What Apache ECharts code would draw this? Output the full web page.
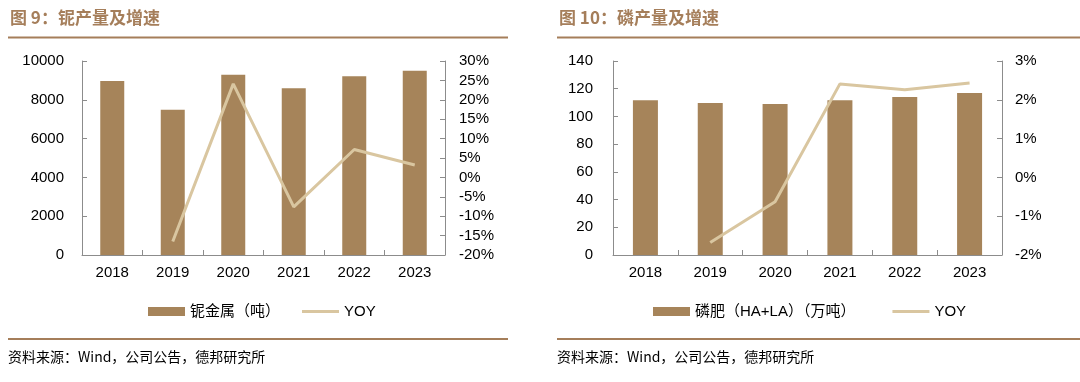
<!DOCTYPE html>
<html><head><meta charset="utf-8">
<script src="https://cdn.jsdelivr.net/npm/echarts@6/dist/echarts.min.js"></script>
<style>html,body{margin:0;padding:0;background:#fff}#c{width:1080px;height:382px}</style>
</head><body><div id="c"></div>
<script>
const years = ['2018','2019','2020','2021','2022','2023'];
const nbOutput = [8969, 7490, 9294, 8591, 9210, 9502];
const nbYoy = [null, -16.5, 24.1, -7.6, 7.2, 3.2];
const pOutput = [111.6, 109.7, 109.0, 111.6, 114.0, 116.9];
const pYoy = [null, -1.68, -0.63, 2.41, 2.26, 2.43];
const nbLeftTicks = {min: 0, max: 10000, interval: 2000};
const nbRightTicks = {min: -20, max: 30, interval: 5};
const pLeftTicks = {min: 0, max: 140, interval: 20};
const pRightTicks = {min: -2, max: 3, interval: 1};

const BAR = '#A6845A', LINE = '#D9C6A0', TITLE = '#A57E5A', AX = '#8c8c8c';
const FONT = 'Arial, "Liberation Sans", "Noto Sans CJK SC", sans-serif';
const CJK = '"Noto Sans CJK SC", sans-serif';

function yAx(grid, t, pos, fmt, margin) {
  return {type: 'value', gridIndex: grid, position: pos, min: t.min, max: t.max, interval: t.interval,
    axisLine: {show: true, lineStyle: {color: AX, width: 1}},
    axisTick: {show: true, inside: true, length: 5, lineStyle: {color: AX}},
    splitLine: {show: false},
    axisLabel: {color: '#000', fontSize: 15, fontFamily: FONT, margin: margin, formatter: fmt}};
}
function xAx(grid) {
  return {type: 'category', gridIndex: grid, data: years, boundaryGap: true,
    axisLine: {show: true, lineStyle: {color: AX, width: 1}},
    axisTick: {show: true, inside: true, length: 5, alignWithLabel: false, lineStyle: {color: AX}},
    axisLabel: {color: '#000', fontSize: 15, fontFamily: FONT, margin: 10}};
}
const chart = echarts.init(document.getElementById('c'), null, {renderer: 'canvas'});
chart.setOption({
  animation: false,
  grid: [
    {left: 82, top: 61, width: 363, height: 194},
    {left: 613, top: 61, width: 389, height: 194}
  ],
  xAxis: [xAx(0), xAx(1)],
  yAxis: [
    yAx(0, nbLeftTicks, 'left', v => v, 18),
    yAx(0, nbRightTicks, 'right', v => v + '%', 14),
    yAx(1, pLeftTicks, 'left', v => v, 20),
    yAx(1, pRightTicks, 'right', v => v + '%', 13)
  ],
  legend: [
    {data: [{name: '铌金属（吨）', icon: 'rect'}, {name: 'YOY_1', icon: 'path://M0,0L40,0L40,3L0,3Z'}],
     formatter: n => n.startsWith('YOY') ? 'YOY' : n,
     left: 143, top: 299, itemWidth: 37, itemHeight: 9, itemGap: 22,
     textStyle: {fontSize: 15, fontFamily: FONT, color: '#000'}},
    {data: [{name: '磷肥（HA+LA）（万吨）', icon: 'rect'}, {name: 'YOY_2', icon: 'path://M0,0L40,0L40,3L0,3Z'}],
     formatter: n => n.startsWith('YOY') ? 'YOY' : n,
     left: 648, top: 299, itemWidth: 37, itemHeight: 9, itemGap: 37,
     textStyle: {fontSize: 15, fontFamily: FONT, color: '#000'}}
  ],
  series: [
    {name: '铌金属（吨）', type: 'bar', xAxisIndex: 0, yAxisIndex: 0, data: nbOutput, barWidth: 24, itemStyle: {color: BAR}, z: 2},
    {name: 'YOY_1', type: 'line', xAxisIndex: 0, yAxisIndex: 1, data: nbYoy, showSymbol: false, symbol: 'none',
     lineStyle: {color: LINE, width: 3}, itemStyle: {color: LINE}, z: 3},
    {name: '磷肥（HA+LA）（万吨）', type: 'bar', xAxisIndex: 1, yAxisIndex: 2, data: pOutput, barWidth: 25, itemStyle: {color: BAR}, z: 2},
    {name: 'YOY_2', type: 'line', xAxisIndex: 1, yAxisIndex: 3, data: pYoy, showSymbol: false, symbol: 'none',
     lineStyle: {color: LINE, width: 3}, itemStyle: {color: LINE}, z: 3}
  ],
  graphic: [
    {type: 'text', left: 10, top: 9, style: {text: '图 9：铌产量及增速', fill: TITLE, font: 'bold 17px ' + CJK}},
    {type: 'text', left: 559, top: 9, style: {text: '图 10：磷产量及增速', fill: TITLE, font: 'bold 17px ' + CJK}},
    {type: 'rect', shape: {x: 8, y: 36.5, width: 500, height: 2}, style: {fill: TITLE}},
    {type: 'rect', shape: {x: 557, y: 36.5, width: 523, height: 2}, style: {fill: TITLE}},
    {type: 'rect', shape: {x: 8, y: 338, width: 500, height: 2}, style: {fill: TITLE}},
    {type: 'rect', shape: {x: 557, y: 338, width: 523, height: 2}, style: {fill: TITLE}},
    {type: 'text', left: 8, top: 350, style: {text: '资料来源：Wind，公司公告，德邦研究所', fill: '#000', font: '14px ' + CJK}},
    {type: 'text', left: 557, top: 350, style: {text: '资料来源：Wind，公司公告，德邦研究所', fill: '#000', font: '14px ' + CJK}}
  ]
});
</script></body></html>
